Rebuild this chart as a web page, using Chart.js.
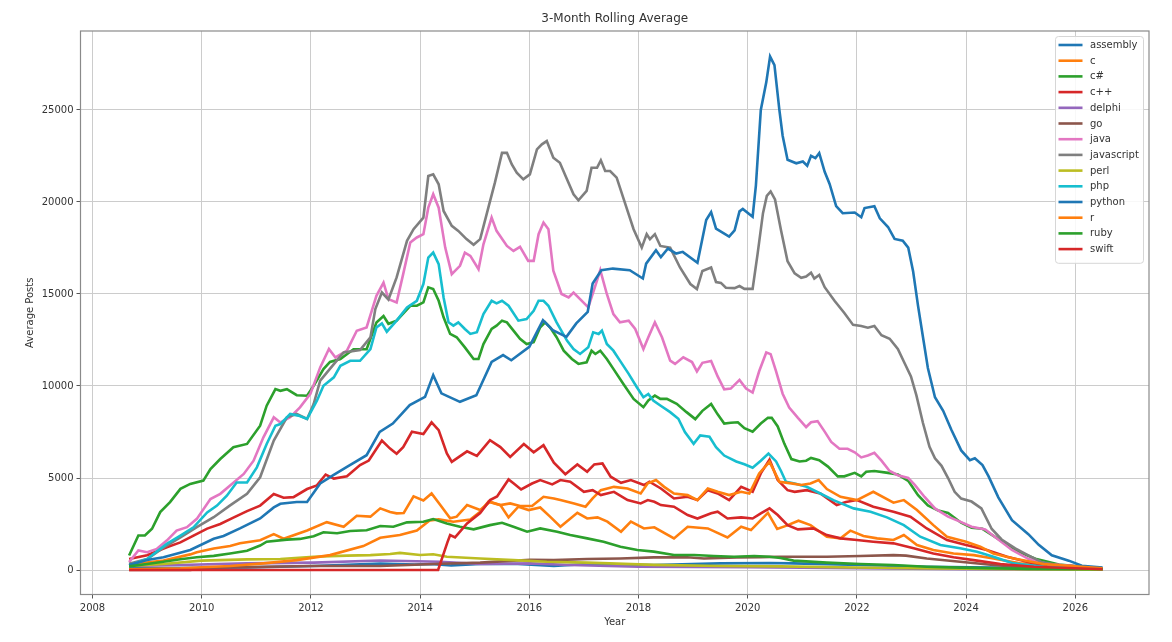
<!DOCTYPE html>
<html>
<head>
<meta charset="utf-8">
<title>3-Month Rolling Average</title>
<script src="https://cdn.jsdelivr.net/npm/chart.js@4.4.1/dist/chart.umd.min.js"></script>
<style>
  html, body { margin: 0; padding: 0; background: #fff; }
  #wrap { width: 1172px; height: 642px; }
</style>
</head>
<body>
<div id="wrap"><canvas id="chart" width="1172" height="642"></canvas></div>
<script>
// values: [year, average posts]
const assembly = [[2008.67, 90], [2010.83, 140], [2012.05, 220], [2013.27, 350], [2013.9, 300], [2014.2, 330],
  [2014.57, 250], [2015.1, 330], [2015.79, 330], [2016.45, 220], [2017.06, 330], [2018.28, 270], [2019.5, 360],
  [2020.4, 380], [2020.84, 360], [2022.06, 270], [2023.28, 180], [2024.5, 130], [2026.5, 40]];

const c = [[2008.67, 300], [2009.3, 520], [2009.79, 850], [2009.91, 970], [2010.22, 1170], [2010.52, 1300],
  [2010.7, 1450], [2011.07, 1620], [2011.32, 1950], [2011.5, 1700], [2011.93, 2150], [2012.29, 2600],
  [2012.6, 2350], [2012.84, 2950], [2013.09, 2900], [2013.27, 3350], [2013.45, 3150], [2013.57, 3080],
  [2013.7, 3100], [2013.88, 4000], [2014.06, 3780], [2014.21, 4160], [2014.37, 3530], [2014.55, 2810],
  [2014.67, 2900], [2014.86, 3530], [2015.1, 3260], [2015.28, 3710], [2015.47, 3530], [2015.62, 2860],
  [2015.8, 3440], [2015.99, 3260], [2016.2, 3400], [2016.38, 2900], [2016.57, 2350], [2016.88, 3110],
  [2017.06, 2800], [2017.25, 2860], [2017.43, 2630], [2017.68, 2080], [2017.86, 2630], [2018.1, 2260],
  [2018.29, 2320], [2018.65, 1720], [2018.9, 2350], [2019.27, 2260], [2019.63, 1770], [2019.88, 2350],
  [2020.06, 2170], [2020.37, 3110], [2020.54, 2230], [2020.7, 2400], [2020.93, 2680], [2021.15, 2440],
  [2021.45, 1810], [2021.7, 1720], [2021.88, 2140], [2022.12, 1850], [2022.37, 1720], [2022.67, 1630],
  [2022.86, 1900], [2023.1, 1360], [2023.4, 1090], [2023.77, 900], [2024.14, 810], [2024.5, 630],
  [2024.99, 360], [2026.5, 70]];

const csharp = [[2008.67, 790], [2008.84, 1880], [2008.96, 1880], [2009.09, 2240], [2009.24, 3150], [2009.42, 3690],
  [2009.61, 4410], [2009.79, 4680], [2010.03, 4860], [2010.16, 5490], [2010.34, 6030], [2010.58, 6670],
  [2010.83, 6850], [2011.07, 7840], [2011.19, 8930], [2011.35, 9830], [2011.44, 9740], [2011.56, 9830],
  [2011.74, 9500], [2011.93, 9470], [2012.05, 10010], [2012.23, 10920], [2012.35, 11310], [2012.54, 11460],
  [2012.78, 12000], [2013.02, 12000], [2013.2, 13450], [2013.33, 13800], [2013.42, 13380], [2013.57, 13550],
  [2013.82, 14360], [2013.94, 14360], [2014.06, 14540], [2014.15, 15360], [2014.24, 15270], [2014.34, 14630],
  [2014.43, 13730], [2014.55, 12830], [2014.67, 12650], [2014.82, 12100], [2014.98, 11470], [2015.07, 11470],
  [2015.16, 12280], [2015.31, 13100], [2015.4, 13280], [2015.5, 13550], [2015.59, 13460], [2015.71, 13010],
  [2015.83, 12560], [2015.95, 12280], [2016.08, 12380], [2016.2, 13190], [2016.29, 13460], [2016.38, 13190],
  [2016.5, 12650], [2016.63, 11920], [2016.78, 11470], [2016.9, 11200], [2017.05, 11290], [2017.14, 11920],
  [2017.21, 11740], [2017.3, 11920], [2017.42, 11470], [2017.54, 10930], [2017.72, 10120], [2017.91, 9300],
  [2018.09, 8850], [2018.18, 9210], [2018.3, 9480], [2018.4, 9300], [2018.52, 9300], [2018.7, 9030],
  [2018.88, 8580], [2019.04, 8200], [2019.17, 8650], [2019.33, 9020], [2019.45, 8460], [2019.57, 7960],
  [2019.69, 8000], [2019.82, 8030], [2019.94, 7710], [2020.09, 7520], [2020.24, 7960], [2020.37, 8270],
  [2020.44, 8270], [2020.55, 7800], [2020.67, 6870], [2020.8, 6030], [2020.95, 5900], [2021.07, 5940],
  [2021.16, 6090], [2021.31, 5970], [2021.47, 5620], [2021.65, 5090], [2021.77, 5090], [2021.96, 5280],
  [2022.08, 5090], [2022.17, 5340], [2022.32, 5380], [2022.57, 5280], [2022.75, 5190], [2022.94, 4850],
  [2023.12, 4070], [2023.3, 3510], [2023.49, 3230], [2023.67, 3100], [2023.91, 2570], [2024.1, 2300],
  [2024.3, 2240], [2024.65, 1570], [2024.96, 990], [2025.27, 610], [2025.7, 300], [2026.5, 80]];

const cpp = [[2008.67, 600], [2009.0, 800], [2009.36, 1240], [2009.61, 1500], [2009.85, 1870], [2010.1, 2250],
  [2010.34, 2500], [2010.58, 2850], [2010.83, 3200], [2011.07, 3500], [2011.32, 4130], [2011.5, 3930],
  [2011.68, 3960], [2011.93, 4400], [2012.11, 4600], [2012.27, 5190], [2012.42, 4970], [2012.66, 5100],
  [2012.9, 5700], [2013.06, 5950], [2013.18, 6490], [2013.3, 7040], [2013.45, 6600], [2013.57, 6320],
  [2013.69, 6680], [2013.85, 7510], [2014.06, 7390], [2014.21, 8020], [2014.34, 7600], [2014.49, 6330],
  [2014.58, 5880], [2014.86, 6450], [2015.04, 6200], [2015.28, 7050], [2015.47, 6680], [2015.65, 6150],
  [2015.9, 6850], [2016.08, 6400], [2016.26, 6780], [2016.45, 5830], [2016.66, 5210], [2016.88, 5740],
  [2017.06, 5340], [2017.19, 5740], [2017.34, 5790], [2017.49, 5070], [2017.68, 4740], [2017.86, 4890],
  [2018.1, 4620], [2018.2, 4800], [2018.41, 4430], [2018.65, 3890], [2018.9, 3980], [2019.08, 3800],
  [2019.27, 4340], [2019.45, 4160], [2019.66, 3800], [2019.88, 4520], [2020.09, 4250], [2020.24, 5250],
  [2020.4, 6000], [2020.55, 4890], [2020.73, 4340], [2020.86, 4250], [2021.08, 4340], [2021.33, 4160],
  [2021.63, 3530], [2021.8, 3700], [2022.0, 3800], [2022.3, 3440], [2022.67, 3170], [2022.98, 2900],
  [2023.28, 2260], [2023.65, 1630], [2024.0, 1360], [2024.38, 1090], [2024.75, 720], [2025.24, 360],
  [2026.5, 90]];

const delphi = [[2008.67, 220], [2009.6, 270], [2010.83, 360], [2012.05, 400], [2013.27, 520], [2014.37, 450],
  [2015.1, 330], [2016.02, 360], [2016.75, 270], [2018.0, 180], [2020.0, 150], [2022.0, 100], [2024.0, 50],
  [2026.5, 20]];

const go = [[2008.67, 0], [2009.8, 0], [2009.92, 100], [2010.1, 130], [2012.05, 220], [2013.27, 220],
  [2013.9, 290], [2014.37, 340], [2015.1, 400], [2016.02, 560], [2016.45, 540], [2017.06, 600], [2017.67, 630],
  [2018.28, 690], [2018.89, 690], [2019.2, 630], [2019.8, 690], [2020.23, 700], [2020.6, 720], [2021.45, 720],
  [2022.06, 760], [2022.67, 810], [2022.9, 780], [2023.28, 630], [2023.89, 450], [2024.5, 270], [2025.11, 140],
  [2026.5, 40]];

const java = [[2008.67, 430], [2008.84, 1060], [2009.0, 970], [2009.18, 1150], [2009.36, 1600], [2009.54, 2140],
  [2009.73, 2330], [2009.91, 2780], [2010.16, 3860], [2010.34, 4140], [2010.52, 4590], [2010.77, 5220],
  [2010.95, 5940], [2011.13, 7210], [2011.32, 8300], [2011.44, 8020], [2011.62, 8300], [2011.8, 8840],
  [2011.99, 9570], [2012.17, 11010], [2012.33, 12010], [2012.45, 11550], [2012.66, 11920], [2012.84, 13000],
  [2013.02, 13180], [2013.2, 14900], [2013.33, 15620], [2013.42, 14720], [2013.57, 14540], [2013.69, 16080],
  [2013.82, 17800], [2013.94, 18070], [2014.06, 18250], [2014.15, 19690], [2014.24, 20420], [2014.34, 19690],
  [2014.46, 17520], [2014.58, 16080], [2014.73, 16530], [2014.82, 17250], [2014.92, 17070], [2015.07, 16350],
  [2015.16, 17700], [2015.31, 19150], [2015.4, 18430], [2015.59, 17610], [2015.71, 17340], [2015.83, 17560],
  [2015.98, 16800], [2016.08, 16800], [2016.17, 18250], [2016.26, 18880], [2016.35, 18520], [2016.44, 16260],
  [2016.59, 15000], [2016.72, 14810], [2016.81, 15080], [2016.93, 14720], [2017.08, 14270], [2017.2, 15360],
  [2017.3, 16300], [2017.42, 15000], [2017.54, 13910], [2017.66, 13460], [2017.82, 13550], [2017.94, 13100],
  [2018.09, 12010], [2018.18, 12650], [2018.3, 13460], [2018.43, 12650], [2018.58, 11380], [2018.67, 11200],
  [2018.82, 11560], [2018.98, 11300], [2019.07, 10790], [2019.17, 11260], [2019.33, 11360], [2019.45, 10520],
  [2019.57, 9820], [2019.69, 9860], [2019.85, 10330], [2019.97, 9860], [2020.09, 9640], [2020.21, 10800],
  [2020.34, 11820], [2020.42, 11730], [2020.52, 10800], [2020.64, 9580], [2020.76, 8830], [2020.92, 8270],
  [2021.07, 7770], [2021.16, 8030], [2021.28, 8090], [2021.41, 7520], [2021.53, 6960], [2021.68, 6590],
  [2021.83, 6590], [2021.96, 6400], [2022.08, 6120], [2022.2, 6220], [2022.32, 6370], [2022.45, 5940],
  [2022.6, 5380], [2022.75, 5150], [2022.94, 5000], [2023.06, 4630], [2023.24, 3970], [2023.43, 3350],
  [2023.67, 2900], [2023.91, 2600], [2024.1, 2350], [2024.35, 2200], [2024.59, 1660], [2024.84, 1090],
  [2025.14, 610], [2025.51, 320], [2026.5, 100]];

const javascript = [[2008.67, 335], [2009.0, 600], [2009.36, 1330], [2009.61, 1780], [2009.91, 2330],
  [2010.22, 2870], [2010.52, 3510], [2010.83, 4140], [2011.07, 5040], [2011.32, 7030], [2011.56, 8300],
  [2011.74, 8480], [2011.93, 8210], [2012.05, 9020], [2012.17, 10290], [2012.42, 11190], [2012.6, 11820],
  [2012.9, 11950], [2013.09, 12640], [2013.18, 14180], [2013.3, 15080], [2013.42, 14700], [2013.57, 15900],
  [2013.76, 17890], [2013.88, 18520], [2014.06, 19150], [2014.15, 21410], [2014.24, 21500], [2014.34, 20960],
  [2014.43, 19510], [2014.58, 18700], [2014.7, 18430], [2014.85, 17980], [2014.98, 17670], [2015.1, 17980],
  [2015.25, 19690], [2015.37, 21050], [2015.5, 22670], [2015.59, 22670], [2015.68, 22040], [2015.77, 21590],
  [2015.89, 21230], [2016.01, 21500], [2016.14, 22860], [2016.23, 23130], [2016.32, 23310], [2016.44, 22400],
  [2016.56, 22130], [2016.69, 21230], [2016.81, 20420], [2016.9, 20090], [2017.05, 20600], [2017.14, 21860],
  [2017.24, 21860], [2017.31, 22260], [2017.39, 21680], [2017.48, 21680], [2017.6, 21320], [2017.72, 20240],
  [2017.91, 18520], [2018.06, 17520], [2018.15, 18250], [2018.21, 17980], [2018.3, 18250], [2018.4, 17610],
  [2018.58, 17520], [2018.76, 16440], [2018.95, 15540], [2019.07, 15270], [2019.17, 16250], [2019.33, 16440],
  [2019.42, 15650], [2019.51, 15600], [2019.6, 15340], [2019.76, 15320], [2019.85, 15430], [2019.94, 15280],
  [2020.09, 15280], [2020.18, 17150], [2020.28, 19390], [2020.35, 20330], [2020.42, 20570], [2020.5, 20140],
  [2020.61, 18460], [2020.73, 16780], [2020.86, 16120], [2020.98, 15880], [2021.07, 15950], [2021.16, 16160],
  [2021.22, 15840], [2021.31, 16030], [2021.41, 15370], [2021.59, 14630], [2021.77, 13970], [2021.93, 13320],
  [2022.08, 13260], [2022.2, 13170], [2022.32, 13260], [2022.45, 12760], [2022.6, 12570], [2022.75, 12010],
  [2022.87, 11260], [2022.99, 10520], [2023.09, 9490], [2023.21, 7990], [2023.33, 6690], [2023.43, 6070],
  [2023.55, 5660], [2023.67, 5000], [2023.79, 4250], [2023.91, 3880], [2024.1, 3720], [2024.28, 3350],
  [2024.47, 2230], [2024.65, 1660], [2024.9, 1180], [2025.14, 800], [2025.39, 420], [2025.76, 230],
  [2026.5, 100]];

const perl = [[2008.67, 220], [2009.3, 330], [2010.0, 510], [2010.83, 580], [2011.44, 600], [2012.05, 720],
  [2012.66, 780], [2013.09, 810], [2013.45, 870], [2013.63, 930], [2014.0, 820], [2014.24, 860], [2014.49, 720],
  [2015.1, 630], [2015.71, 540], [2016.32, 450], [2017.06, 400], [2018.28, 280], [2019.5, 220], [2020.6, 200],
  [2022.0, 140], [2023.5, 80], [2025.0, 40], [2026.5, 20]];

const php = [[2008.67, 250], [2009.0, 600], [2009.36, 1420], [2009.61, 1870], [2009.85, 2320], [2010.1, 3130],
  [2010.28, 3500], [2010.46, 4040], [2010.64, 4760], [2010.83, 4760], [2011.01, 5580], [2011.19, 6850],
  [2011.35, 7840], [2011.44, 7930], [2011.62, 8480], [2011.77, 8390], [2011.93, 8210], [2012.11, 9200],
  [2012.23, 10010], [2012.42, 10470], [2012.54, 11100], [2012.72, 11370], [2012.9, 11370], [2013.09, 12010],
  [2013.2, 13180], [2013.3, 13400], [2013.39, 12950], [2013.57, 13550], [2013.76, 14270], [2013.94, 14630],
  [2014.06, 15540], [2014.15, 16980], [2014.24, 17250], [2014.34, 16620], [2014.43, 14810], [2014.52, 13460],
  [2014.61, 13280], [2014.7, 13460], [2014.82, 13100], [2014.92, 12830], [2015.04, 12920], [2015.16, 13910],
  [2015.31, 14630], [2015.4, 14490], [2015.5, 14630], [2015.62, 14360], [2015.8, 13550], [2015.95, 13640],
  [2016.08, 14090], [2016.17, 14630], [2016.26, 14630], [2016.35, 14360], [2016.5, 13460], [2016.69, 12470],
  [2016.81, 12010], [2016.93, 11740], [2017.08, 12100], [2017.17, 12920], [2017.27, 12830], [2017.33, 13010],
  [2017.42, 12280], [2017.54, 11920], [2017.66, 11380], [2017.82, 10660], [2017.97, 9930], [2018.09, 9390],
  [2018.18, 9570], [2018.27, 9210], [2018.4, 8940], [2018.58, 8580], [2018.73, 8220], [2018.85, 7500],
  [2019.01, 6860], [2019.13, 7310], [2019.3, 7240], [2019.42, 6680], [2019.57, 6220], [2019.79, 5900],
  [2019.94, 5750], [2020.09, 5560], [2020.24, 5940], [2020.38, 6330], [2020.52, 5900], [2020.61, 5380],
  [2020.7, 4800], [2020.86, 4700], [2021.08, 4520], [2021.33, 4160], [2021.57, 3800], [2021.94, 3350],
  [2022.25, 3170], [2022.55, 2860], [2022.86, 2440], [2023.16, 1810], [2023.53, 1360], [2023.89, 1180],
  [2024.2, 990], [2024.5, 720], [2024.87, 360], [2025.42, 180], [2026.5, 90]];

const python = [[2008.67, 270], [2009.0, 550], [2009.3, 690], [2009.79, 1090], [2010.22, 1700], [2010.4, 1850],
  [2010.7, 2260], [2011.07, 2800], [2011.32, 3400], [2011.44, 3600], [2011.74, 3700], [2011.93, 3700],
  [2012.17, 4700], [2012.41, 5160], [2012.66, 5600], [2013.02, 6240], [2013.26, 7510], [2013.5, 7960],
  [2013.81, 8960], [2014.09, 9410], [2014.24, 10590], [2014.39, 9600], [2014.73, 9140], [2015.03, 9500],
  [2015.31, 11310], [2015.52, 11680], [2015.67, 11400], [2016.0, 12130], [2016.25, 13580], [2016.43, 13030],
  [2016.68, 12670], [2016.86, 13400], [2017.07, 14030], [2017.16, 15570], [2017.32, 16290], [2017.53, 16380],
  [2017.84, 16290], [2018.08, 15840], [2018.14, 16650], [2018.32, 17380], [2018.41, 17000], [2018.54, 17470],
  [2018.69, 17200], [2018.81, 17290], [2019.08, 16700], [2019.24, 19020], [2019.33, 19450], [2019.42, 18550],
  [2019.66, 18120], [2019.76, 18460], [2019.85, 19490], [2019.91, 19620], [2020.09, 19200], [2020.15, 20890],
  [2020.24, 25000], [2020.34, 26500], [2020.41, 27900], [2020.49, 27430], [2020.58, 25000], [2020.64, 23600],
  [2020.73, 22290], [2020.89, 22100], [2021.01, 22200], [2021.09, 21970], [2021.16, 22510], [2021.24, 22380],
  [2021.31, 22660], [2021.41, 21640], [2021.5, 20980], [2021.62, 19770], [2021.74, 19390], [2021.96, 19430],
  [2022.08, 19170], [2022.14, 19670], [2022.32, 19770], [2022.42, 19110], [2022.57, 18640], [2022.69, 17990],
  [2022.84, 17900], [2022.94, 17520], [2023.03, 16220], [2023.12, 14350], [2023.21, 12660], [2023.3, 10980],
  [2023.43, 9390], [2023.58, 8650], [2023.73, 7620], [2023.91, 6500], [2024.07, 5970], [2024.16, 6070],
  [2024.3, 5700], [2024.41, 5100], [2024.59, 3950], [2024.84, 2710], [2025.14, 1950], [2025.33, 1370],
  [2025.57, 800], [2025.88, 510], [2026.12, 230], [2026.5, 130]];

const r = [[2008.67, 40], [2009.61, 100], [2010.52, 220], [2011.13, 360], [2011.74, 540], [2012.35, 810],
  [2012.96, 1300], [2013.27, 1750], [2013.63, 1900], [2013.94, 2150], [2014.18, 2700], [2014.34, 2750],
  [2014.61, 2620], [2014.92, 2750], [2015.1, 3170], [2015.25, 3710], [2015.47, 3530], [2015.65, 3620],
  [2015.83, 3480], [2016.05, 3480], [2016.26, 3980], [2016.45, 3890], [2016.57, 3800], [2016.82, 3620],
  [2017.03, 3440], [2017.16, 3890], [2017.31, 4340], [2017.55, 4520], [2017.8, 4430], [2018.04, 4160],
  [2018.17, 4710], [2018.32, 4890], [2018.47, 4520], [2018.65, 4160], [2018.9, 4070], [2019.08, 3800],
  [2019.27, 4430], [2019.45, 4250], [2019.66, 4070], [2019.88, 4250], [2020.03, 4160], [2020.21, 5250],
  [2020.4, 5880], [2020.58, 4800], [2020.8, 4710], [2020.98, 4620], [2021.15, 4700], [2021.3, 4890],
  [2021.45, 4400], [2021.7, 3980], [2022.0, 3800], [2022.3, 4250], [2022.67, 3660], [2022.86, 3800],
  [2023.1, 3260], [2023.4, 2440], [2023.65, 1810], [2024.0, 1540], [2024.26, 1270], [2024.5, 900],
  [2024.87, 630], [2025.42, 330], [2026.5, 90]];

const ruby = [[2008.67, 200], [2009.0, 330], [2009.36, 480], [2009.61, 590], [2009.91, 690], [2010.22, 770],
  [2010.52, 900], [2010.83, 1050], [2011.07, 1330], [2011.19, 1540], [2011.56, 1650], [2011.8, 1690],
  [2012.05, 1840], [2012.23, 2050], [2012.48, 2000], [2012.72, 2120], [2013.02, 2160], [2013.27, 2390],
  [2013.51, 2350], [2013.76, 2590], [2014.06, 2620], [2014.24, 2770], [2014.49, 2530], [2014.73, 2350],
  [2014.98, 2210], [2015.28, 2440], [2015.5, 2570], [2015.71, 2350], [2015.96, 2080], [2016.2, 2260],
  [2016.51, 2080], [2016.75, 1900], [2017.06, 1720], [2017.36, 1540], [2017.67, 1270], [2017.98, 1090],
  [2018.28, 1000], [2018.65, 820], [2019.02, 820], [2019.38, 760], [2019.75, 720], [2020.12, 760],
  [2020.4, 720], [2020.6, 650], [2020.84, 510], [2021.45, 400], [2022.06, 330], [2022.67, 270],
  [2023.28, 180], [2023.89, 130], [2025.11, 60], [2026.5, 40]];

const swift = [[2008.67, 0], [2014.33, 0], [2014.5, 1500], [2014.55, 1900], [2014.64, 1770], [2014.86, 2530],
  [2015.1, 3100], [2015.28, 3800], [2015.41, 4000], [2015.62, 4920], [2015.71, 4710], [2015.85, 4380],
  [2016.05, 4700], [2016.2, 4890], [2016.42, 4650], [2016.57, 4890], [2016.75, 4800], [2017.0, 4250],
  [2017.16, 4340], [2017.31, 4070], [2017.55, 4250], [2017.8, 3800], [2018.04, 3620], [2018.17, 3800],
  [2018.29, 3710], [2018.41, 3530], [2018.65, 3440], [2018.9, 2990], [2019.08, 2800], [2019.33, 3080],
  [2019.45, 3170], [2019.63, 2800], [2019.88, 2860], [2020.09, 2800], [2020.24, 3080], [2020.4, 3350],
  [2020.55, 2990], [2020.73, 2440], [2020.92, 2210], [2021.2, 2260], [2021.45, 1900], [2021.7, 1720],
  [2022.0, 1630], [2022.3, 1540], [2022.67, 1450], [2023.04, 1180], [2023.4, 900], [2023.77, 690],
  [2024.2, 510], [2024.63, 330], [2025.24, 180], [2026.5, 40]];

const languages = [`assembly`, `c`, `c#`, `c++`, `delphi`, `go`, `java`, `javascript`, `perl`, `php`, `python`, `r`, `ruby`, `swift`];
const series = [assembly, c, csharp, cpp, delphi, go, java, javascript, perl, php, python, r, ruby, swift];
const palette = [`#1f77b4`, `#ff7f0e`, `#2ca02c`, `#d62728`, `#9467bd`, `#8c564b`, `#e377c2`, `#7f7f7f`, `#bcbd22`, `#17becf`];

const xTicks = [2008, 2010, 2012, 2014, 2016, 2018, 2020, 2022, 2024, 2026];
const yTicks = [0, 5000, 10000, 15000, 20000, 25000];

const FONT = `"DejaVu Sans", "Liberation Sans", sans-serif`;
const TEXT = `#333333`;
const AREA = {left: 80.5, top: 31, right: 1149, bottom: 594.5};

// title, axis titles, full box and the legend, drawn like matplotlib does
const frame = {
  id: `frame`,
  afterDatasetsDraw(chart) {
    const ctx = chart.ctx;
    const a = chart.chartArea;
    ctx.save();
    ctx.strokeStyle = `#8a8a8a`;
    ctx.lineWidth = 1.2;
    ctx.strokeRect(a.left, a.top, a.right - a.left, a.bottom - a.top);
    ctx.restore();
  },
  afterDraw(chart) {
    const ctx = chart.ctx;
    const a = chart.chartArea;
    ctx.save();
    ctx.fillStyle = TEXT;
    ctx.textAlign = `center`;
    ctx.textBaseline = `middle`;
    ctx.font = `12px ${FONT}`;
    ctx.fillText(`3-Month Rolling Average`, (a.left + a.right) / 2, 19);
    ctx.font = `10px ${FONT}`;
    ctx.fillText(`Year`, (a.left + a.right) / 2, 622);
    ctx.translate(30, (a.top + a.bottom) / 2);
    ctx.rotate(-Math.PI / 2);
    ctx.fillText(`Average Posts`, 0, 0);
    ctx.restore();

    // legend
    const boxX = 1055.5;
    const boxY = 36.5;
    const boxW = 88;
    const rowH = 15.7;
    const boxH = languages.length * rowH + 7;
    ctx.save();
    ctx.fillStyle = `rgba(255,255,255,0.85)`;
    ctx.strokeStyle = `#d6d6d6`;
    ctx.lineWidth = 1;
    ctx.beginPath();
    ctx.roundRect(boxX, boxY, boxW, boxH, 3);
    ctx.fill();
    ctx.stroke();
    ctx.font = `10px ${FONT}`;
    ctx.textAlign = `left`;
    ctx.textBaseline = `middle`;
    chart.data.datasets.forEach((ds, i) => {
      const y = boxY + 8.5 + i * rowH;
      ctx.strokeStyle = ds.borderColor;
      ctx.lineWidth = 2.6;
      ctx.beginPath();
      ctx.moveTo(boxX + 3, y);
      ctx.lineTo(boxX + 27, y);
      ctx.stroke();
      ctx.fillStyle = TEXT;
      ctx.fillText(ds.label, boxX + 34.5, y + 0.5);
    });
    ctx.restore();
  }
};

const datasets = languages.map((name, i) => ({
  label: name,
  data: series[i].map(([x, y]) => ({x, y})),
  borderColor: palette[i % palette.length],
  backgroundColor: palette[i % palette.length],
  borderWidth: 2.6,
  pointRadius: 0,
  tension: 0,
  fill: false,
  order: languages.length - i
}));

new Chart(document.getElementById(`chart`), {
  type: `line`,
  data: {datasets},
  options: {
    responsive: false,
    animation: false,
    devicePixelRatio: 1,
    layout: {padding: {left: 0, top: AREA.top, right: 1172 - AREA.right, bottom: 0}},
    plugins: {
      legend: {display: false},
      title: {display: false},
      tooltip: {enabled: false}
    },
    scales: {
      x: {
        type: `linear`,
        min: 2007.78,
        max: 2027.35,
        afterFit(scale) {
          scale.height = 642 - AREA.bottom;
        },
        afterBuildTicks(scale) {
          scale.ticks = xTicks.map((value) => ({value}));
        },
        grid: {color: `#cccccc`, lineWidth: 1, tickLength: 4, tickColor: `#555555`},
        border: {display: false},
        ticks: {
          color: TEXT,
          font: {family: FONT, size: 10},
          padding: 4,
          maxRotation: 0,
          callback: (v) => String(v)
        }
      },
      y: {
        type: `linear`,
        min: -1330,
        max: 29290,
        afterFit(scale) {
          scale.width = AREA.left;
        },
        afterBuildTicks(scale) {
          scale.ticks = yTicks.map((value) => ({value}));
        },
        grid: {color: `#cccccc`, lineWidth: 1, tickLength: 4, tickColor: `#555555`},
        border: {display: false},
        ticks: {
          color: TEXT,
          font: {family: FONT, size: 10},
          padding: 3,
          callback: (v) => String(v)
        }
      }
    }
  },
  plugins: [frame]
});
</script>
</body>
</html>
